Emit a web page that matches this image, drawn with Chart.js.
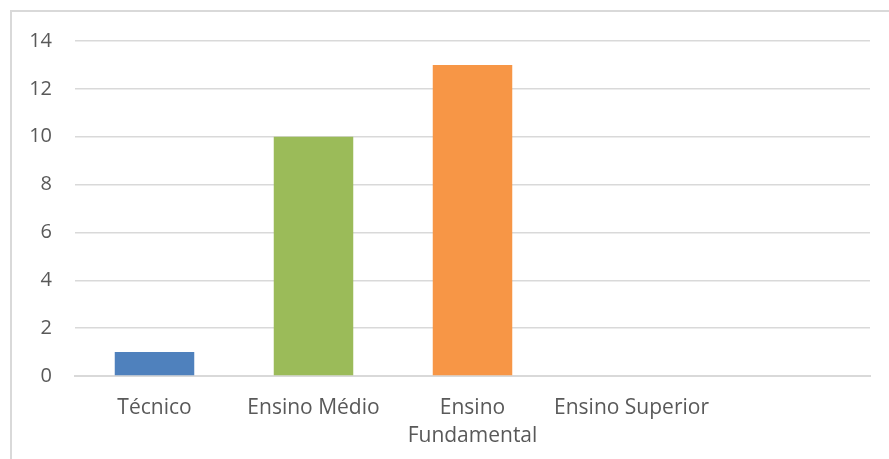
<!DOCTYPE html>
<html>
<head>
<meta charset="utf-8">
<script src="https://cdn.jsdelivr.net/npm/chart.js@4/dist/chart.umd.min.js"></script>
<style>
  html, body { margin: 0; padding: 0; background: #ffffff; }
  #wrap { position: relative; width: 889px; height: 459px; }
</style>
</head>
<body>
<div id="wrap"><canvas id="chart" width="889" height="459"></canvas></div>
<script>
// Categories (multi-line labels as arrays), values and colours
const categories = ['Técnico', 'Ensino Médio', ['Ensino', 'Fundamental'], 'Ensino Superior', ''];
const values = [1, 10, 13, 0, null];
const barColors = ['#4F81BD', '#9BBB59', '#F79646', '#8064A2', '#4BACC6'];
const yTicks = [0, 2, 4, 6, 8, 10, 12, 14];

const textColor = '#595959';
const gridColor = '#d9d9d9';
const fontFamily = "'Open Sans', 'Noto Sans', sans-serif";

// Light frame around the chart object
const framePlugin = {
  id: 'frame',
  beforeDraw(chart) {
    const ctx = chart.ctx;
    ctx.save();
    ctx.strokeStyle = gridColor;
    ctx.lineWidth = 2;
    ctx.strokeRect(11, 11, 1000, 1000);
    ctx.restore();
  }
};

new Chart(document.getElementById('chart'), {
  type: 'bar',
  data: {
    labels: categories,
    datasets: [{
      data: values,
      backgroundColor: barColors,
      borderWidth: 0,
      categoryPercentage: 0.5,
      barPercentage: 1.0
    }]
  },
  options: {
    responsive: false,
    animation: false,
    layout: { padding: { top: 41, right: 19, bottom: 0, left: 0 } },
    plugins: {
      legend: { display: false },
      tooltip: { enabled: false }
    },
    scales: {
      x: {
        grid: { display: false, drawTicks: false },
        border: { display: true, color: gridColor, width: 2 },
        ticks: {
          color: textColor,
          font: { family: fontFamily, size: 21, lineHeight: 1.333 },
          padding: 18,
          maxRotation: 0,
          autoSkip: false
        },
        afterFit(scale) { scale.height = 83; }
      },
      y: {
        min: 0,
        max: 14,
        afterBuildTicks(scale) { scale.ticks = yTicks.map(v => ({ value: v })); },
        grid: { color: gridColor, lineWidth: 1.5, drawTicks: false },
        border: { display: false },
        ticks: {
          color: textColor,
          font: { family: fontFamily, size: 20 },
          padding: 23
        },
        afterFit(scale) { scale.width = 75; }
      }
    }
  },
  plugins: [framePlugin]
});
</script>
</body>
</html>
